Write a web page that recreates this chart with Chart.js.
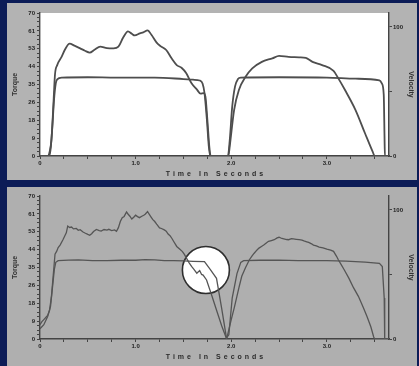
<!DOCTYPE html>
<html>
<head>
<meta charset="utf-8">
<script src="https://cdn.jsdelivr.net/npm/chart.js@4.4.0/dist/chart.umd.min.js"></script>
<style>
  html, body { margin: 0; padding: 0; }
  body { width: 419px; height: 366px; background: #0c1c57; position: relative; overflow: hidden; }
  .panel { position: absolute; left: 7px; width: 410px; background: #b3b3b3; }
  .panel canvas { display: block; }
  #top { top: 3px; height: 177px; }
  #bottom { top: 187px; height: 179px; background: #afafaf; }
</style>
</head>
<body>
<div class="panel" id="top"><canvas id="topCanvas" width="410" height="177"></canvas></div>
<div class="panel" id="bottom"><canvas id="bottomCanvas" width="410" height="179"></canvas></div>
<script>
'use strict';

// top run - torque (left axis) and velocity (right axis) vs time in seconds
var topTorqueTime = [0, 0.085, 0.1, 0.12, 0.14, 0.157, 0.18, 0.227, 0.26, 0.31, 0.36, 0.42, 0.47, 0.52, 0.57,
    0.63, 0.70, 0.77, 0.82, 0.87, 0.92, 0.96, 0.99, 1.045, 1.08, 1.125, 1.167, 1.22, 1.26, 1.32, 1.376, 1.43,
    1.48, 1.53, 1.585, 1.64, 1.68, 1.71, 1.73, 1.75, 1.77, 1.785, 1.97, 1.985, 2.03, 2.08, 2.15, 2.22, 2.32,
    2.43, 2.5, 2.6, 2.71, 2.78, 2.85, 2.95, 3.07, 3.12, 3.19, 3.3, 3.4, 3.48, 3.5, 3.65];
var topTorque = [0, 0, 2, 8, 25, 40, 44.5, 48.6, 52, 55, 54, 52.7, 51.5, 50.6, 52,
    53.5, 52.8, 52.7, 53.5, 58, 61, 59.8, 59, 60, 60.5, 61.5, 59.2, 55.5, 53.8, 51.9, 47.8, 44.5,
    43.2, 40.5, 35.6, 32.6, 30.5, 30.8, 29, 18, 5, 0, 0, 5, 22.5, 32.3, 38.8, 42.9, 46.1,
    47.8, 49, 48.5, 48.3, 48, 46.1, 44.5, 41.7, 38, 32.3, 22.5, 11, 2, 0, 0];
var topVelocityTime = [0, 0.095, 0.11, 0.13, 0.146, 0.165, 0.18, 0.23, 0.5, 0.8, 1.2, 1.5, 1.6, 1.67, 1.7,
    1.72, 1.745, 1.765, 1.78, 1.965, 1.985, 2.01, 2.04, 2.07, 2.1, 2.5, 3.0, 3.3, 3.55, 3.575, 3.595,
    3.603, 3.607, 3.65];
var topVelocity = [0, 0, 4.8, 23.8, 42.8, 56.2, 59.4, 60.7, 61.0, 60.7, 60.8, 59.6, 59.1, 58.5, 56.2,
    49, 28.5, 7.9, 0, 0, 12.7, 38, 53.9, 59.6, 60.7, 61, 60.8, 59.9, 58.6, 56.2, 47.5,
    15.8, 0, 0];

// bottom run - raw, noisier signal
var bottomTorqueTime = [0, 0.02, 0.04, 0.06, 0.08, 0.1, 0.12, 0.14, 0.157, 0.175, 0.19, 0.21, 0.24, 0.26, 0.275,
    0.29, 0.31, 0.33, 0.35, 0.38, 0.40, 0.42, 0.45, 0.47, 0.50, 0.52, 0.54, 0.56, 0.59, 0.62, 0.64, 0.67,
    0.70, 0.72, 0.75, 0.78, 0.80, 0.82, 0.84, 0.86, 0.88, 0.905, 0.92, 0.94, 0.96, 0.98, 1.0, 1.02, 1.04,
    1.065, 1.085, 1.1, 1.125, 1.14, 1.16, 1.18, 1.2, 1.22, 1.25, 1.27, 1.3, 1.32, 1.34, 1.36, 1.38, 1.40,
    1.43, 1.46, 1.49, 1.51, 1.53, 1.56, 1.585, 1.61, 1.64, 1.67, 1.69, 1.706, 1.742, 1.8, 1.85, 1.9, 1.952,
    1.975, 2.0, 2.03, 2.06, 2.08, 2.11, 2.15, 2.19, 2.22, 2.24, 2.27, 2.29, 2.32, 2.34, 2.37, 2.39, 2.42,
    2.45, 2.48, 2.5, 2.53, 2.55, 2.58, 2.6, 2.63, 2.65, 2.68, 2.71, 2.74, 2.76, 2.79, 2.81, 2.84, 2.86,
    2.89, 2.92, 2.96, 3.0, 3.04, 3.07, 3.1, 3.12, 3.15, 3.18, 3.23, 3.28, 3.33, 3.38, 3.42, 3.46, 3.49,
    3.5, 3.65];
var bottomTorque = [7, 8.5, 9.5, 10.5, 11.5, 14, 21, 32, 41.5, 43, 44.8, 46, 48.6, 50.5, 52,
    55.3, 54.6, 54.8, 53.9, 54.1, 53.2, 53.5, 52.4, 51.9, 51.2, 50.8, 51.5, 52.6, 53.6, 53.1, 52.8, 53.6,
    53.3, 53.7, 53.1, 53.4, 52.7, 54.5, 57.5, 59.4, 60, 62.2, 61.2, 60.1, 58.7, 59.6, 60.6, 59.9, 59.4,
    60.1, 60.6, 61.1, 62.4, 61.2, 59.8, 58.4, 57.5, 56.2, 54.4, 54.1, 53.4, 52.8, 51.4, 50.6, 49.2, 47.6,
    45.3, 44.1, 42.8, 41.4, 39.7, 37.3, 35.5, 34.1, 32.2, 33.5, 31.6, 31.3, 28.9, 20.8, 13.6, 6.5, 0,
    4.6, 9.5, 15, 21, 25, 30.7, 35, 38.8, 40.8, 42, 43.6, 44.5, 45.4, 46, 47.1, 47.8, 48.2,
    48.6, 49.5, 49.8, 49.2, 49, 48.7, 48.6, 49.1, 49, 48.8, 48.6, 48.4, 48, 47.6, 47.3, 46.6, 46,
    45.6, 45, 44.6, 44, 43.5, 42.9, 40.6, 38.8, 36.4, 34, 29.8, 25, 20.9, 15.5, 11, 6, 1,
    0, 0];
var bottomVelocityTime = [0, 0.04, 0.08, 0.11, 0.13, 0.15, 0.165, 0.19, 0.3, 0.4, 0.55, 0.7, 0.85, 1.0, 1.1,
    1.2, 1.3, 1.4, 1.5, 1.6, 1.72, 1.78, 1.846, 1.9, 1.95, 1.975, 2.01, 2.06, 2.1, 2.13, 2.3, 2.5, 2.7,
    3.0, 3.2, 3.4, 3.55, 3.58, 3.6, 3.605, 3.65];
var bottomVelocity = [7.9, 11.1, 17.4, 25.3, 39.6, 53.9, 59.4, 60.7, 61.1, 61.3, 60.7, 60.8, 61, 61, 61.5,
    61.3, 60.8, 60.8, 60.5, 60.2, 59.9, 53.9, 47, 23.8, 0.8, 3.2, 31.7, 50.7, 59.4, 60.7, 61, 61.1, 60.8,
    60.7, 60.4, 59.6, 58.6, 56.2, 31.7, 0, 0];

// axes
var timeMax = 3.65;
var timeTicks = [0, 0.25, 0.5, 0.75, 1, 1.25, 1.5, 1.75, 2, 2.25, 2.5, 2.75, 3, 3.25, 3.5];
var timeLabels = ['0', '', '', '', '1.0', '', '', '', '2.0', '', '', '', '3.0', '', ''];
var torqueMax = 70;
var torqueTickLabels = ['0', '9', '18', '26', '35', '44', '53', '61', '70'];
var velocityMax = 110.8;
var velocityTicks = [0, 50, 100];
var velocityLabels = ['0', '', '100'];

// the circled spot on the bottom run
var circleSpot = {time: 1.735, torque: 33.8};

Chart.defaults.font.family = '"Liberation Sans", Arial, sans-serif';
Chart.defaults.font.weight = 'bold';

function toPoints(xs, ys) {
    return xs.map(function (x, i) { return {x: x, y: ys[i]}; });
}

var plotBackground = {
    id: 'plotBackground',
    beforeDraw: function (chart, args, opts) {
        if (!opts.color) return;
        var a = chart.chartArea;
        chart.ctx.save();
        chart.ctx.fillStyle = opts.color;
        chart.ctx.fillRect(a.left, a.top, a.right - a.left, a.bottom - a.top);
        chart.ctx.restore();
    }
};

var spotCircle = {
    id: 'spotCircle',
    beforeDatasetsDraw: function (chart, args, opts) {
        if (!opts.show) return;
        var ctx = chart.ctx;
        var cx = chart.scales.x.getPixelForValue(circleSpot.time);
        var cy = chart.scales.y.getPixelForValue(circleSpot.torque);
        ctx.save();
        ctx.beginPath();
        ctx.arc(cx, cy, 23.5, 0, Math.PI * 2);
        ctx.fillStyle = '#ffffff';
        ctx.fill();
        ctx.lineWidth = 1.6;
        ctx.strokeStyle = '#2e2e2e';
        ctx.stroke();
        ctx.restore();
    }
};

var timeTitle = {
    id: 'timeTitle',
    afterDraw: function (chart) {
        var ctx = chart.ctx, a = chart.chartArea;
        ctx.save();
        ctx.font = 'bold 7px "Liberation Sans", Arial, sans-serif';
        ctx.letterSpacing = '3px';
        ctx.fillStyle = '#2b2b2b';
        ctx.textAlign = 'center';
        ctx.textBaseline = 'middle';
        ctx.fillText('Time In Seconds', (a.left + a.right) / 2 + 1.5, a.bottom + 18);
        ctx.restore();
    }
};

function makeScales() {
    var tickFont = {size: 6, weight: 'bold'};
    var axisGrid = {drawOnChartArea: false, tickLength: 3, color: '#444', lineWidth: 1};
    var axisBorder = {color: '#444', width: 1.4};
    return {
        x: {
            type: 'linear', min: 0, max: timeMax,
            afterBuildTicks: function (s) { s.ticks = timeTicks.map(function (v) { return {value: v}; }); },
            afterFit: function (s) { s.height = 24; },
            ticks: {autoSkip: false, maxRotation: 0, padding: 1, font: tickFont, color: '#222',
                callback: function (v, i) { return timeLabels[i]; }},
            grid: axisGrid, border: axisBorder
        },
        y: {
            position: 'left', min: 0, max: torqueMax,
            afterBuildTicks: function (s) {
                var t = [];
                for (var i = 0; i <= 32; i++) t.push({value: i * torqueMax / 32});
                s.ticks = t;
            },
            afterFit: function (s) { s.width = 33; },
            ticks: {autoSkip: false, padding: 2, font: tickFont, color: '#222',
                callback: function (v, i) { return i % 4 === 0 ? torqueTickLabels[i / 4] : ''; }},
            title: {display: true, text: 'Torque', color: '#333', font: {size: 7, weight: 'bold'}, padding: {top: 4, bottom: 0}},
            grid: axisGrid, border: axisBorder
        },
        y1: {
            position: 'right', min: 0, max: velocityMax,
            afterBuildTicks: function (s) { s.ticks = velocityTicks.map(function (v) { return {value: v}; }); },
            afterFit: function (s) { s.width = 28; },
            ticks: {autoSkip: false, padding: 1, font: tickFont, color: '#222',
                callback: function (v, i) { return velocityLabels[i]; }},
            title: {display: true, text: 'Velocity', color: '#333', font: {size: 7, weight: 'bold'}, padding: {top: 2, bottom: 0}},
            grid: axisGrid, border: axisBorder
        }
    };
}

function makeChart(canvasId, torqueTime, torque, velocityTime, velocity, opt) {
    var ctx = document.getElementById(canvasId).getContext('2d');
    var lineBase = {pointRadius: 0, fill: false, borderColor: opt.lineColor, borderWidth: opt.lineWidth,
        tension: opt.smooth ? 0.4 : 0, cubicInterpolationMode: opt.smooth ? 'monotone' : 'default'};
    return new Chart(ctx, {
        type: 'line',
        data: {
            datasets: [
                Object.assign({label: 'Torque', data: toPoints(torqueTime, torque), yAxisID: 'y'}, lineBase),
                Object.assign({label: 'Velocity', data: toPoints(velocityTime, velocity), yAxisID: 'y1'}, lineBase)
            ]
        },
        options: {
            responsive: false,
            animation: false,
            events: [],
            layout: {padding: {top: opt.padTop, bottom: opt.padBottom, left: 0, right: 0}},
            scales: makeScales(),
            plugins: {
                legend: {display: false},
                tooltip: {enabled: false},
                plotBackground: {color: opt.plotColor},
                spotCircle: {show: opt.circle}
            }
        },
        plugins: [plotBackground, spotCircle, timeTitle]
    });
}

makeChart('topCanvas', topTorqueTime, topTorque, topVelocityTime, topVelocity,
    {padTop: 10, padBottom: 0, plotColor: '#ffffff', lineColor: '#4e4e4e', lineWidth: 1.8, smooth: true, circle: false});
makeChart('bottomCanvas', bottomTorqueTime, bottomTorque, bottomVelocityTime, bottomVelocity,
    {padTop: 9, padBottom: 3, plotColor: null, lineColor: '#555555', lineWidth: 1.3, smooth: false, circle: true});
</script>
</body>
</html>
